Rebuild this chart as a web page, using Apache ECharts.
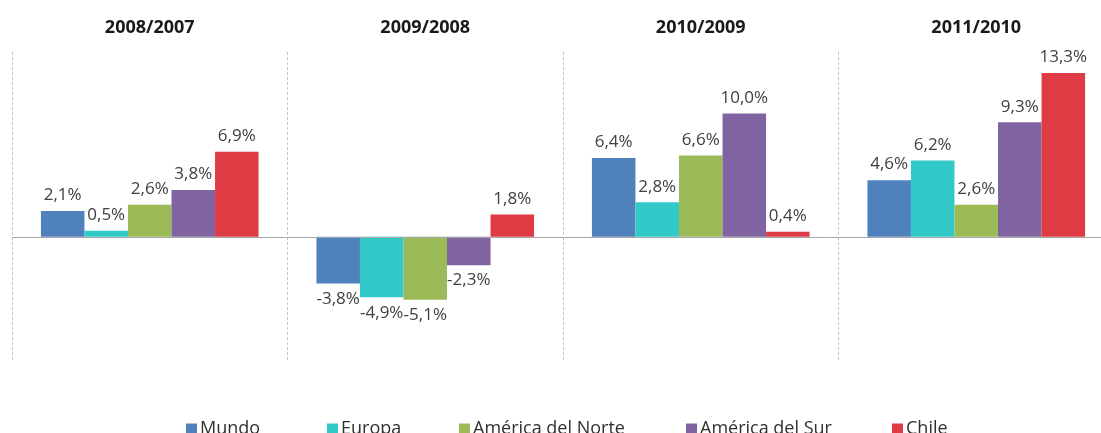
<!DOCTYPE html>
<html>
<head>
<meta charset="utf-8">
<script src="https://cdn.jsdelivr.net/npm/echarts@6/dist/echarts.min.js"></script>
<style>
html,body{margin:0;padding:0;background:#fff;}
#chart{width:1101px;height:433px;}
</style>
</head>
<body>
<div id="chart"></div>
<script>
const categories = ['2008/2007', '2009/2008', '2010/2009', '2011/2010'];
const seriesNames = ['Mundo', 'Europa', 'América del Norte', 'América del Sur', 'Chile'];
const mundo = [2.1, -3.8, 6.4, 4.6];
const europa = [0.5, -4.9, 2.8, 6.2];
const norte = [2.6, -5.1, 6.6, 2.6];
const sur = [3.8, -2.3, 10.0, 9.3];
const chile = [6.9, 1.8, 0.4, 13.3];
const colors = ['#4F81BD', '#33C9C9', '#9BBB59', '#8064A2', '#DE3B44'];
const legendLeft = [181, 322, 454, 681, 887];

const allData = [mundo, europa, norte, sur, chile];
const FONT = '"Open Sans", "Noto Sans", sans-serif';

const chart = echarts.init(document.getElementById('chart'), null, {renderer: 'canvas'});

const series = seriesNames.map((name, i) => {
  const s = {
    name: name,
    type: 'bar',
    data: allData[i],
    barGap: '0%',
    barCategoryGap: '21%',
    itemStyle: {color: colors[i]},
    label: {
      show: true,
      position: 'outside',
      distance: 7,
      color: '#404040',
      fontFamily: FONT,
      fontSize: 17,
      formatter: p => p.value.toFixed(1).replace('.', ',') + '%'
    }
  };
  if (i === 0) {
    s.markLine = {
      silent: true,
      symbol: 'none',
      label: {show: false},
      lineStyle: {color: '#a6a6a6', type: 'solid', width: 1},
      data: [{yAxis: 0}]
    };
  }
  return s;
});

const legends = seriesNames.map((name, i) => ({
  data: [name],
  left: legendLeft[i],
  top: 415,
  icon: 'rect',
  itemWidth: 11,
  itemHeight: 11,
  selectedMode: false,
  textStyle: {fontFamily: FONT, fontSize: 18, color: '#303030', padding: [0, 0, 0, -2]}
}));

chart.setOption({
  animation: false,
  backgroundColor: '#ffffff',
  grid: {left: 12, top: 52, width: 1102, height: 308, containLabel: false, outerBoundsMode: 'none'},
  legend: legends,
  xAxis: {
    type: 'category',
    data: categories,
    position: 'top',
    axisLine: {show: false, onZero: false},
    axisTick: {show: false},
    axisLabel: {
      margin: 15,
      fontFamily: FONT,
      fontSize: 18,
      fontWeight: 'bold',
      color: '#1a1a1a',
      interval: 0
    },
    splitLine: {
      show: true,
      interval: 0,
      lineStyle: {color: '#c4c4c4', type: [3, 2], width: 1}
    }
  },
  yAxis: {
    type: 'value',
    min: -10,
    max: 15,
    interval: 5,
    show: false,
    splitLine: {show: false}
  },
  series: series
});
</script>
</body>
</html>
